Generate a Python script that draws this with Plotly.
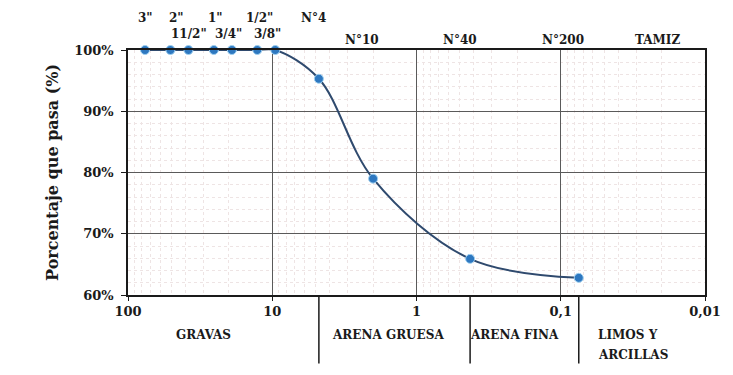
import math
import plotly.graph_objects as go

# Sieve analysis (curva granulométrica)
sieve_names = ['3"', '2"', '11/2"', '1"', '3/4"', '1/2"', '3/8"', 'N°4', 'N°10', 'N°40', 'N°200']
sieve_mm = [76.2, 50.8, 38.1, 25.4, 19.05, 12.7, 9.525, 4.75, 2.0, 0.425, 0.075]
passing_pct = [100, 100, 100, 100, 100, 100, 100, 95.3, 79.0, 65.9, 62.8]

x_tick_vals = [100, 10, 1, 0.1, 0.01]
x_tick_text = ["100", "10", "1", "0,1", "0,01"]
y_tick_vals = [60, 70, 80, 90, 100]
y_tick_text = ["60%", "70%", "80%", "90%", "100%"]

# soil fractions shown under the axis: label lines, centre (mm)
fraction_names = [["GRAVAS"], ["ARENA GRUESA"], ["ARENA FINA"], ["LIMOS Y", "ARCILLAS"]]
fraction_centres = [30.0, 1.58, 0.21, 0.034]
fraction_bounds = [4.75, 0.425, 0.075]

# label layout for sieve names above the chart: row (1 = upper) and pixel nudge
label_row = [1, 1, 2, 1, 2, 1, 2, 1, 3, 3, 3]
label_dx = [0, 6, 1, 2, -3, 2, -8, -5, -11, -10, -16]
row_shift = {1: 32, 2: 16, 3: 10}

SERIF = "DejaVu Serif"
BLACK = "#1a1a1a"

fig = go.Figure()
fig.add_trace(go.Scatter(
    x=sieve_mm, y=passing_pct, mode="lines+markers",
    line=dict(color="#2f4a6e", width=2, shape="spline", smoothing=1.0),
    marker=dict(color="#2e78c0", size=9, line=dict(color="#9fd0f0", width=1)),
    cliponaxis=False, showlegend=False,
))

# minor grid values for the log axis
minor_x = [m * 10 ** e for e in range(-2, 2) for m in range(2, 10)]

fig.update_xaxes(
    type="log", range=[math.log10(100), math.log10(0.01)],
    tickvals=x_tick_vals, ticktext=x_tick_text,
    ticks="outside", ticklen=4, tickcolor=BLACK,
    showline=True, linecolor=BLACK, linewidth=1.5, mirror=True,
    showgrid=True, gridcolor="#5a5a5a", gridwidth=1,
    minor=dict(tickvals=minor_x, showgrid=True, gridcolor="#eee4e4", griddash="dot", gridwidth=1),
    tickfont=dict(family=SERIF, size=13, color=BLACK, weight="bold"),
    zeroline=False,
)
fig.update_yaxes(
    range=[60, 100], tickvals=y_tick_vals, ticktext=y_tick_text,
    ticks="outside", ticklen=5, tickcolor=BLACK, ticklabelstandoff=5,
    showline=True, linecolor=BLACK, linewidth=1.5, mirror=True,
    showgrid=True, gridcolor="#5a5a5a", gridwidth=1,
    minor=dict(dtick=2, showgrid=True, gridcolor="#eee4e4", griddash="dot", gridwidth=1),
    tickfont=dict(family=SERIF, size=13, color=BLACK, weight="bold"),
    title=dict(text="Porcentaje que pasa (%)", standoff=12,
               font=dict(family=SERIF, size=16, color=BLACK, weight="bold")),
    zeroline=False,
)

annotations = []
for name, size, row, dx in zip(sieve_names, sieve_mm, label_row, label_dx):
    annotations.append(dict(
        x=math.log10(size), y=1, xref="x", yref="paper", yanchor="middle",
        yshift=row_shift[row], xshift=dx, text=name, showarrow=False,
        font=dict(family=SERIF, size=12, color=BLACK, weight="bold"),
    ))
annotations.append(dict(
    x=0.96, y=1, xref="paper", yref="paper", yanchor="middle", yshift=row_shift[3],
    text="TAMIZ", showarrow=False,
    font=dict(family=SERIF, size=12, color=BLACK, weight="bold"),
))
for lines, c in zip(fraction_names, fraction_centres):
    for i, line in enumerate(lines):
        annotations.append(dict(
            x=math.log10(c), y=0, xref="x", yref="paper", yanchor="middle",
            yshift=-40 - 20 * i, xshift=5 * i, text=line, showarrow=False,
            font=dict(family=SERIF, size=12, color=BLACK, weight="bold"),
        ))

shapes = [dict(type="line", xref="x", yref="paper", x0=b, x1=b, y0=0, y1=-0.28,
               line=dict(color=BLACK, width=1.5)) for b in fraction_bounds]

fig.update_layout(
    width=733, height=375,
    margin=dict(l=128, r=28, t=50, b=80),
    paper_bgcolor="white", plot_bgcolor="white",
    annotations=annotations, shapes=shapes,
)

fig.write_html("out.html")
